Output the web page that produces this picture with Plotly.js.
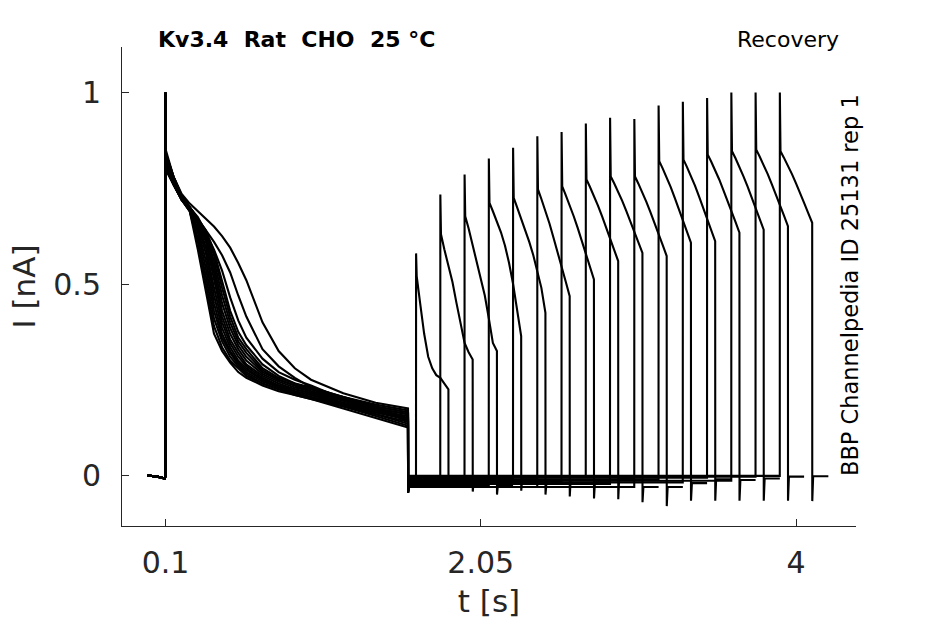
<!DOCTYPE html>
<html>
<head>
<meta charset="utf-8">
<script src="https://cdn.plot.ly/plotly-3.0.1.min.js"></script>
<style>html,body{margin:0;padding:0;background:#fff;}#chart{width:945px;height:624px;}</style>
</head>
<body>
<div id="chart"></div>
<script>
// ---- data ----
// pre-step baseline (shared)
const baseT = [-0.011, 0.05, 0.095, 0.0995];
const baseI = [0.0, -0.003, -0.008, -0.002];
// prepulse: peak at t=0.1, then decay sampled at these times
const prePeakT = 0.1;
const prePeak = [1.0, 1.0, 0.99, 1.0, 0.98, 1.0, 0.99, 1.0, 0.98, 1.0, 0.99, 1.0, 0.98, 1.0, 0.99, 1.0];
const preT = [0.102, 0.15, 0.2, 0.25, 0.3, 0.35, 0.4, 0.45, 0.5, 0.55, 0.6, 0.7, 0.8, 0.9, 1.0, 1.2, 1.4, 1.6];
const preDecay = [
  [0.81,0.76,0.72,0.70,0.655,0.58,0.47,0.385,0.335,0.30,0.28,0.25,0.235,0.22,0.21,0.19,0.165,0.15],
  [0.85,0.78,0.735,0.71,0.69,0.67,0.65,0.625,0.595,0.555,0.51,0.40,0.325,0.28,0.25,0.215,0.19,0.175],
  [0.82,0.77,0.72,0.69,0.62,0.52,0.41,0.35,0.31,0.285,0.265,0.24,0.225,0.215,0.205,0.18,0.16,0.14],
  [0.84,0.78,0.73,0.70,0.67,0.64,0.61,0.575,0.53,0.47,0.415,0.33,0.285,0.255,0.23,0.205,0.18,0.165],
  [0.80,0.76,0.72,0.70,0.665,0.62,0.53,0.43,0.37,0.33,0.30,0.265,0.245,0.23,0.22,0.195,0.175,0.16],
  [0.80,0.76,0.72,0.69,0.59,0.48,0.37,0.325,0.295,0.27,0.255,0.235,0.22,0.21,0.20,0.175,0.15,0.125],
  [0.82,0.77,0.73,0.70,0.67,0.63,0.56,0.47,0.40,0.35,0.32,0.275,0.25,0.235,0.225,0.20,0.18,0.165],
  [0.81,0.76,0.72,0.69,0.61,0.50,0.39,0.335,0.30,0.28,0.26,0.24,0.225,0.21,0.20,0.18,0.155,0.13],
  [0.83,0.77,0.73,0.695,0.665,0.635,0.59,0.535,0.465,0.405,0.36,0.305,0.27,0.25,0.235,0.20,0.175,0.16],
  [0.83,0.77,0.725,0.695,0.645,0.56,0.45,0.37,0.325,0.295,0.275,0.25,0.23,0.22,0.21,0.185,0.165,0.145],
  [0.84,0.78,0.73,0.70,0.67,0.64,0.585,0.51,0.43,0.375,0.34,0.29,0.26,0.24,0.23,0.205,0.185,0.17],
  [0.82,0.77,0.73,0.70,0.66,0.595,0.49,0.40,0.345,0.31,0.285,0.255,0.235,0.225,0.215,0.19,0.17,0.155],
  [0.80,0.76,0.72,0.695,0.635,0.54,0.43,0.36,0.32,0.29,0.27,0.245,0.23,0.215,0.205,0.185,0.16,0.135],
  [0.81,0.77,0.72,0.70,0.675,0.635,0.575,0.49,0.415,0.36,0.33,0.28,0.255,0.24,0.225,0.205,0.18,0.14],
  [0.84,0.78,0.73,0.70,0.665,0.61,0.51,0.415,0.355,0.32,0.29,0.26,0.24,0.225,0.215,0.195,0.17,0.145],
  [0.83,0.77,0.73,0.70,0.67,0.625,0.545,0.45,0.385,0.34,0.31,0.27,0.25,0.235,0.22,0.20,0.175,0.15]
];
// end of prepulse step-down transient and baseline before the test pulse
const stepDownT = 1.6005;
const stepDownMin = [-0.04, -0.045, -0.035, -0.045, -0.04, -0.03, -0.045, -0.04, -0.035, -0.045, -0.04, -0.03, -0.045, -0.04, -0.035, -0.045];
const preBaseline = [-0.005, -0.02, -0.012, -0.025, -0.008, -0.03, -0.015, -0.004, -0.022, -0.03, -0.01, -0.018, -0.006, -0.014, -0.003, -0.001];
// test pulses (recovery)
const testStart = [1.65, 1.8, 1.95, 2.1, 2.25, 2.4, 2.55, 2.7, 2.85, 3.0, 3.15, 3.3, 3.45, 3.6, 3.75, 3.9];
const testDt = [0, 0.004, 0.025, 0.05, 0.075, 0.1, 0.125, 0.15, 0.175, 0.2];
const testI = [
  [0.58,0.52,0.45,0.37,0.31,0.28,0.262,0.255,0.24,0.225],
  [0.734,0.63,0.59,0.55,0.505,0.45,0.395,0.346,0.322,0.303],
  [0.786,0.677,0.645,0.60,0.56,0.515,0.47,0.41,0.346,0.325],
  [0.828,0.712,0.69,0.665,0.635,0.60,0.555,0.50,0.43,0.364],
  [0.856,0.725,0.70,0.67,0.645,0.61,0.575,0.535,0.49,0.425],
  [0.886,0.747,0.722,0.691,0.658,0.621,0.585,0.546,0.507,0.468],
  [0.897,0.755,0.733,0.706,0.677,0.646,0.614,0.580,0.546,0.512],
  [0.919,0.773,0.754,0.730,0.705,0.677,0.649,0.620,0.590,0.560],
  [0.934,0.781,0.763,0.741,0.717,0.691,0.665,0.637,0.609,0.581],
  [0.931,0.781,0.762,0.739,0.714,0.687,0.660,0.631,0.602,0.573],
  [0.966,0.821,0.802,0.778,0.753,0.725,0.697,0.668,0.638,0.608],
  [0.976,0.825,0.806,0.782,0.757,0.729,0.701,0.672,0.642,0.612],
  [0.986,0.838,0.820,0.797,0.773,0.746,0.720,0.691,0.663,0.634],
  [1.0,0.847,0.829,0.806,0.781,0.755,0.728,0.699,0.671,0.642],
  [1.0,0.851,0.833,0.811,0.787,0.761,0.735,0.707,0.679,0.651],
  [1.0,0.847,0.830,0.810,0.787,0.763,0.739,0.712,0.686,0.660]
];
// after the test pulse: tail minimum, then settled baseline
const tailDt = [0.2005, 0.206, 0.3];
const tailMin = [-0.032, -0.042, -0.05, -0.04, -0.05, -0.055, -0.06, -0.062, -0.07, -0.08, -0.066, -0.066, -0.066, -0.066, -0.066, -0.067];
const postBaseline = [-0.02, -0.015, -0.025, -0.01, -0.02, -0.012, -0.018, -0.008, -0.03, -0.03, -0.02, -0.01, -0.012, -0.008, -0.003, -0.002];

const xTickVals = [0.1, 2.05, 4];
const xTickText = ['0.1', '2.05', '4'];
const yTickVals = [0, 0.5, 1];
const yTickText = ['0', '0.5', '1'];

// ---- build traces ----
const traces = [];
for (let s = 0; s < testStart.length; s++) {
  const x = [], y = [];
  baseT.forEach((t, k) => { x.push(t); y.push(baseI[k]); });
  x.push(prePeakT); y.push(prePeak[s]);
  preT.forEach((t, k) => { x.push(t); y.push(preDecay[s][k]); });
  x.push(stepDownT); y.push(stepDownMin[s]);
  x.push(stepDownT + 0.005); y.push(preBaseline[s]);
  x.push(testStart[s] - 0.0005); y.push(preBaseline[s]);
  testDt.forEach((d, k) => { x.push(testStart[s] + d); y.push(testI[s][k]); });
  x.push(testStart[s] + tailDt[0]); y.push(tailMin[s]);
  x.push(testStart[s] + tailDt[1]); y.push(postBaseline[s]);
  x.push(testStart[s] + tailDt[2]); y.push(postBaseline[s]);
  traces.push({x: x, y: y, type: 'scatter', mode: 'lines',
    line: {color: '#000000', width: 2.1}, hoverinfo: 'skip', showlegend: false});
}

const axisCol = '#262626';
const tickFont = {family: 'DejaVu Sans, sans-serif', size: 30, color: axisCol};
const layout = {
  width: 945, height: 624,
  margin: {l: 122, r: 89, t: 47, b: 98, pad: 0},
  paper_bgcolor: '#ffffff', plot_bgcolor: '#ffffff',
  showlegend: false,
  xaxis: {
    range: [-0.169, 4.371], tickvals: xTickVals, ticktext: xTickText,
    ticks: 'inside', ticklen: 7, tickwidth: 1, tickcolor: axisCol,
    showline: true, linecolor: axisCol, linewidth: 1,
    showgrid: false, zeroline: false, tickfont: tickFont, ticklabelstandoff: 10,
    title: {text: 't [s]', font: {family: 'DejaVu Sans, sans-serif', size: 31, color: axisCol}, standoff: 11}
  },
  yaxis: {
    range: [-0.132, 1.119], tickvals: yTickVals, ticktext: yTickText,
    ticks: 'inside', ticklen: 7, tickwidth: 1, tickcolor: axisCol,
    showline: true, linecolor: axisCol, linewidth: 1,
    showgrid: false, zeroline: false, tickfont: tickFont, ticklabelstandoff: 14,
    title: {text: 'I [nA]', font: {family: 'DejaVu Sans, sans-serif', size: 31, color: axisCol}, standoff: 8}
  },
  annotations: [
    {text: '<b>Kv3.4\u00a0\u00a0Rat\u00a0\u00a0CHO\u00a0\u00a025\u00a0°C</b>', xref: 'paper', yref: 'paper',
     x: 0.046, y: 1.0167, xanchor: 'left', yanchor: 'middle', showarrow: false,
     font: {family: 'DejaVu Sans, sans-serif', size: 22, color: '#000000'}},
    {text: 'Recovery', xref: 'paper', yref: 'paper',
     x: 0.980, y: 1.0167, xanchor: 'right', yanchor: 'middle', showarrow: false,
     font: {family: 'DejaVu Sans, sans-serif', size: 22, color: '#000000'}},
    {text: 'BBP Channelpedia ID 25131 rep 1', xref: 'paper', yref: 'paper',
     x: 0.9918, y: 0.503, xanchor: 'center', yanchor: 'middle', textangle: -90, showarrow: false,
     font: {family: 'DejaVu Sans, sans-serif', size: 22.5, color: '#000000'}}
  ]
};
Plotly.newPlot('chart', traces, layout, {staticPlot: true, displayModeBar: false});
</script>
</body>
</html>
